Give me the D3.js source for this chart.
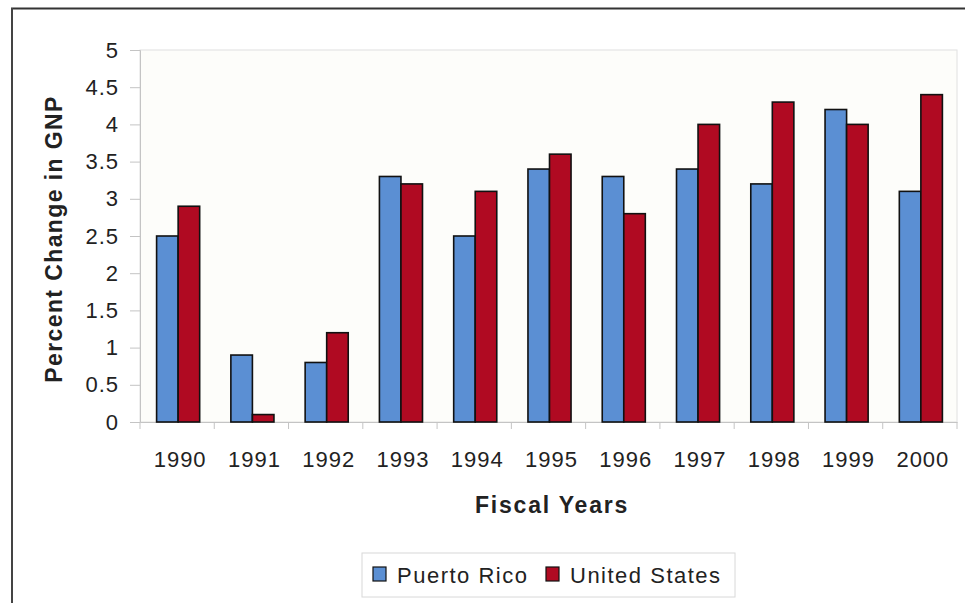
<!DOCTYPE html>
<html>
<head>
<meta charset="utf-8">
<script src="https://cdn.jsdelivr.net/npm/d3@7"></script>
<style>
  html, body { margin: 0; padding: 0; background: #fff; }
  svg { display: block; font-family: "Liberation Sans", Arial, sans-serif; }
</style>
</head>
<body>
<svg id="chart" width="965" height="603"></svg>
<script>
// Annual percent change in GNP, fiscal years 1990-2000
const years = ["1990","1991","1992","1993","1994","1995","1996","1997","1998","1999","2000"];
const puertoRico = [2.5, 0.9, 0.8, 3.3, 2.5, 3.4, 3.3, 3.4, 3.2, 4.2, 3.1];
const unitedStates = [2.9, 0.1, 1.2, 3.2, 3.1, 3.6, 2.8, 4.0, 4.3, 4.0, 4.4];
const seriesNames = ["Puerto Rico", "United States"];
const yTicks = [0, 0.5, 1, 1.5, 2, 2.5, 3, 3.5, 4, 4.5, 5];

const svg = d3.select("#chart");
const plot = { left: 140, right: 957, top: 50, bottom: 422 };

// Outer frame (top and left edges)
svg.append("line").attr("x1", 11).attr("x2", 965).attr("y1", 8.5).attr("y2", 8.5)
  .attr("stroke", "#333").attr("stroke-width", 2);
svg.append("line").attr("x1", 12).attr("x2", 12).attr("y1", 8).attr("y2", 603)
  .attr("stroke", "#444").attr("stroke-width", 2);

// Plot area background
svg.append("rect")
  .attr("x", plot.left).attr("y", plot.top)
  .attr("width", plot.right - plot.left).attr("height", plot.bottom - plot.top)
  .attr("fill", "#fdfdfa").attr("stroke", "#e0e0e0").attr("stroke-width", 1);

const x = d3.scaleBand().domain(years).range([plot.left, plot.right]).paddingInner(0).paddingOuter(0);
const y = d3.scaleLinear().domain([0, 5]).range([plot.bottom, plot.top]);

const groupWidth = x.bandwidth() * 0.58;
const x1 = d3.scaleBand().domain(seriesNames).range([0, groupWidth]);
const colors = { "Puerto Rico": "#5b8fd3", "United States": "#b00a22" };

// Y axis
const yAxis = svg.append("g").attr("transform", `translate(${plot.left},0)`)
  .call(d3.axisLeft(y).tickValues(yTicks).tickSize(10).tickPadding(11)
    .tickFormat(d => String(d)));
yAxis.select(".domain").attr("stroke", "#c4c4c4");
yAxis.selectAll(".tick line").attr("stroke", "#c4c4c4");
yAxis.selectAll(".tick text").attr("font-size", 22).attr("letter-spacing", 1)
  .attr("fill", "#222");

// X axis
const xAxis = svg.append("g").attr("transform", `translate(0,${plot.bottom})`)
  .call(d3.axisBottom(x).tickSize(0).tickPadding(29));
xAxis.select(".domain").attr("stroke", "#c4c4c4");
xAxis.selectAll(".tick text").attr("font-size", 22).attr("letter-spacing", 1)
  .attr("dx", 3).attr("fill", "#222");
// category boundary ticks
svg.append("g").selectAll("line")
  .data(years.concat(["end"]))
  .join("line")
  .attr("x1", (d, i) => plot.left + i * x.step())
  .attr("x2", (d, i) => plot.left + i * x.step())
  .attr("y1", plot.bottom).attr("y2", plot.bottom + 7)
  .attr("stroke", "#c4c4c4");

// Bars
const rows = years.map((yr, i) => ({ year: yr, values: [
  { name: seriesNames[0], v: puertoRico[i] },
  { name: seriesNames[1], v: unitedStates[i] }
]}));

const groups = svg.append("g").selectAll("g")
  .data(rows).join("g")
  .attr("transform", d => `translate(${x(d.year) + (x.bandwidth() - groupWidth) / 2 + 1},0)`);

groups.selectAll("rect")
  .data(d => d.values).join("rect")
  .attr("x", d => x1(d.name))
  .attr("y", d => y(d.v))
  .attr("width", x1.bandwidth())
  .attr("height", d => y(0) - y(d.v))
  .attr("fill", d => colors[d.name])
  .attr("stroke", "#111").attr("stroke-width", 1.6);

// Axis titles
svg.append("text")
  .attr("transform", `translate(62,239) rotate(-90)`)
  .attr("text-anchor", "middle")
  .attr("font-size", 23).attr("font-weight", "bold").attr("fill", "#222")
  .attr("letter-spacing", 1.4)
  .text("Percent Change in GNP");

svg.append("text")
  .attr("x", 552).attr("y", 513)
  .attr("text-anchor", "middle")
  .attr("font-size", 23).attr("font-weight", "bold").attr("fill", "#222")
  .attr("letter-spacing", 1.8)
  .text("Fiscal Years");

// Legend
const legend = svg.append("g");
legend.append("rect")
  .attr("x", 362).attr("y", 553).attr("width", 373).attr("height", 44)
  .attr("fill", "#fff").attr("stroke", "#d8d8d8");
const legendItems = [
  { name: seriesNames[0], x: 373 },
  { name: seriesNames[1], x: 546 }
];
legendItems.forEach(it => {
  legend.append("rect")
    .attr("x", it.x).attr("y", 567).attr("width", 13).attr("height", 14)
    .attr("fill", colors[it.name]).attr("stroke", "#111").attr("stroke-width", 1.2);
  legend.append("text")
    .attr("x", it.x + 24).attr("y", 583)
    .attr("font-size", 22).attr("fill", "#222").attr("letter-spacing", 1.5)
    .text(it.name);
});
</script>
</body>
</html>
